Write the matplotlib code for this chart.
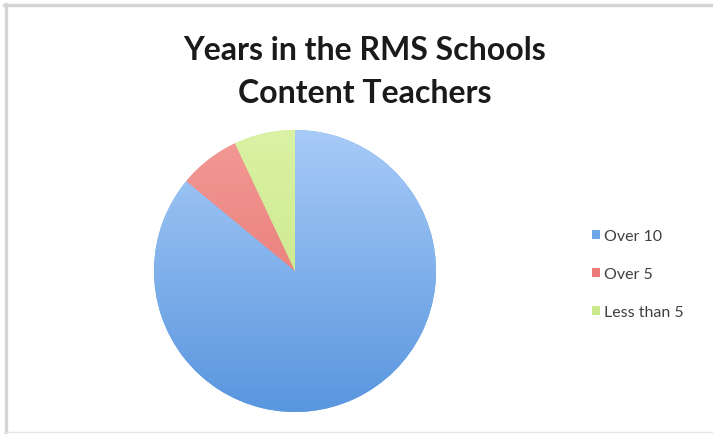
import matplotlib
matplotlib.use("Agg")
import matplotlib.pyplot as plt
import numpy as np
from matplotlib.colors import LinearSegmentedColormap
from matplotlib.lines import Line2D

labels = ["Over 10", "Over 5", "Less than 5"]
values = [86, 7, 7]
# top / bottom shades of each slice gradient
top_colors = ["#a8cbf8", "#f39a95", "#daf2a4"]
bottom_colors = ["#5996de", "#e36c6a", "#c4e47e"]
mid_colors = ["#6fa6e6", "#ea7b78", "#cbe98c"]

plt.rcParams['font.family'] = ['Lato', 'DejaVu Sans']

fig = plt.figure(figsize=(7.13, 4.35), dpi=100)
fig.patch.set_facecolor("white")

# chart frame (grey edge top/left, faint bottom)
fig.add_artist(Line2D([5.5/713, 5.5/713], [0, 1 - 5/435], transform=fig.transFigure,
                      color="#d4d4d4", lw=2.4))
fig.add_artist(Line2D([4/713, 1], [1 - 5.5/435, 1 - 5.5/435], transform=fig.transFigure,
                      color="#d4d4d4", lw=2.4))
fig.add_artist(Line2D([4/713, 1], [2/435, 2/435], transform=fig.transFigure,
                      color="#e6e6e6", lw=1))

ax = fig.add_axes([154/713, 22/435, 282/713, 282/435])
wedges, _ = ax.pie(values, colors=mid_colors, startangle=90, counterclock=False,
                   radius=1, wedgeprops=dict(linewidth=0))
ax.set_xlim(-1, 1)
ax.set_ylim(-1, 1)
ax.set_aspect("equal")
ax.axis("off")

grad = np.linspace(0, 1, 256).reshape(-1, 1)
for w, c0, c1 in zip(wedges, top_colors, bottom_colors):
    cmap = LinearSegmentedColormap.from_list("g", [c0, c1])
    im = ax.imshow(grad, cmap=cmap, extent=[-1, 1, -1, 1], origin="upper",
                   aspect="auto", zorder=2)
    im.set_clip_path(w)

fig.text(365/713, 1 - 72/435, "Years in the RMS Schools\nContent Teachers",
         ha="center", va="center", fontsize=23, fontweight="bold",
         color="#1a1a1a", linespacing=1.6)

leg = fig.legend(wedges, labels, loc="center left", bbox_to_anchor=(592/713, 1 - 275/435),
                 frameon=False, fontsize=11.5, handlelength=0.5, handleheight=0.5,
                 handletextpad=0.25, labelspacing=1.5, borderpad=0, borderaxespad=0)
for t in leg.get_texts():
    t.set_color("#404040")

fig.savefig("out.png", dpi=100, facecolor="white")
